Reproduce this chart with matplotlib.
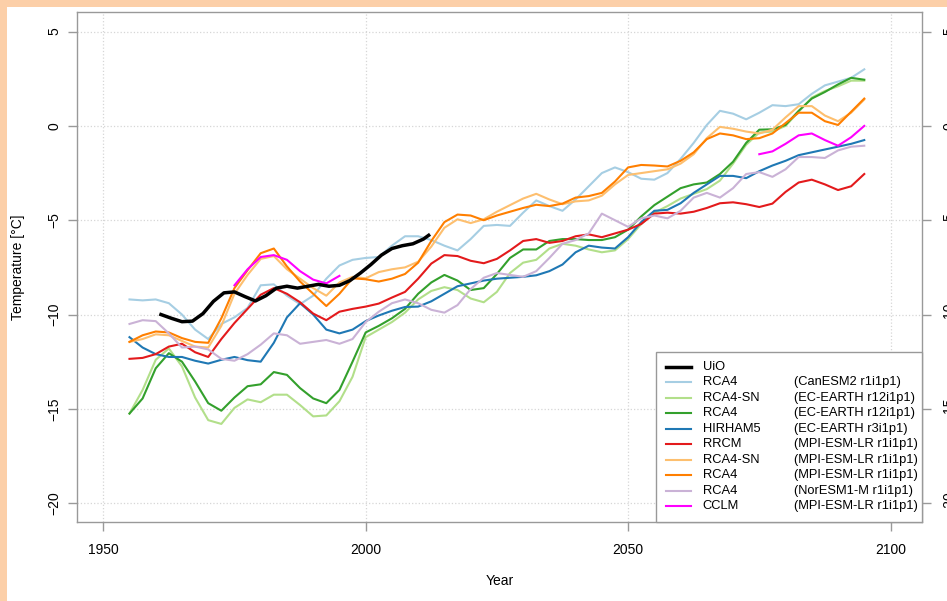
"""
Regional climate model runs vs. UiO observations, temperature by year.
"""
import matplotlib

matplotlib.use("Agg")
import matplotlib.pyplot as plt
from matplotlib.lines import Line2D
from matplotlib.patches import Rectangle

# ---------------------------------------------------------------- data
YEARS = [
    1955, 1957.5, 1960, 1962.5, 1965, 1967.5, 1970, 1972.5, 1975, 1977.5,
    1980, 1982.5, 1985, 1987.5, 1990, 1992.5, 1995, 1997.5, 2000, 2002.5,
    2005, 2007.5, 2010, 2012.5, 2015, 2017.5, 2020, 2022.5, 2025, 2027.5,
    2030, 2032.5, 2035, 2037.5, 2040, 2042.5, 2045, 2047.5, 2050, 2052.5,
    2055, 2057.5, 2060, 2062.5, 2065, 2067.5, 2070, 2072.5, 2075, 2077.5,
    2080, 2082.5, 2085, 2087.5, 2090, 2092.5, 2095,
]

rca4_canesm2 = [
    -9.2, -9.25, -9.2, -9.4, -10.0, -10.8, -11.3, -10.5, -10.15, -9.65,
    -8.45, -8.4, -9.0, -9.45, -9.0, -8.1, -7.4, -7.1, -7.0, -6.95,
    -6.35, -5.85, -5.85, -6.05, -6.35, -6.6, -6.0, -5.3, -5.25, -5.3,
    -4.6, -3.95, -4.25, -4.5, -3.9, -3.2, -2.5, -2.2, -2.45, -2.8,
    -2.85, -2.5, -1.75, -0.9, 0.05, 0.8, 0.65, 0.35, 0.7, 1.1,
    1.05, 1.15, 1.7, 2.15, 2.35, 2.55, 3.0,
]
rca4sn_ecearth = [
    -15.25, -14.0, -12.4, -11.8, -12.75, -14.4, -15.6, -15.8, -14.95, -14.5,
    -14.65, -14.25, -14.25, -14.8, -15.4, -15.35, -14.6, -13.3, -11.2, -10.8,
    -10.4, -9.9, -9.2, -8.75, -8.55, -8.7, -9.15, -9.35, -8.8, -7.8,
    -7.25, -7.1, -6.5, -6.25, -6.35, -6.55, -6.7, -6.6, -6.0, -5.2,
    -4.6, -4.25, -3.85, -3.6, -3.35, -2.9, -2.0, -1.0, -0.35, -0.3,
    0.0, 0.75, 1.5, 1.85, 2.1, 2.4, 2.4,
]
rca4_ecearth = [
    -15.25, -14.45, -12.85, -12.05, -12.5, -13.55, -14.7, -15.1, -14.4, -13.8,
    -13.7, -13.05, -13.2, -13.9, -14.45, -14.7, -14.0, -12.5, -10.95, -10.6,
    -10.2, -9.7, -8.9, -8.3, -7.9, -8.2, -8.7, -8.6, -7.85, -7.0,
    -6.55, -6.55, -6.1, -6.0, -6.0, -6.05, -6.05, -5.9, -5.5, -4.8,
    -4.2, -3.75, -3.3, -3.1, -3.0, -2.55, -1.9, -0.9, -0.2, -0.18,
    0.05, 0.8, 1.45, 1.8, 2.2, 2.55, 2.45,
]
hirham5_ecearth = [
    -11.2, -11.75, -12.1, -12.25, -12.25, -12.45, -12.6, -12.4, -12.25, -12.42,
    -12.5, -11.5, -10.15, -9.4, -10.0, -10.8, -11.0, -10.8, -10.35, -10.05,
    -9.8, -9.6, -9.58, -9.3, -8.9, -8.5, -8.35, -8.2, -8.1, -8.05,
    -8.0, -7.92, -7.7, -7.35, -6.7, -6.35, -6.45, -6.5, -5.9, -5.1,
    -4.5, -4.45, -4.1, -3.55, -3.1, -2.65, -2.65, -2.77, -2.4, -2.1,
    -1.85, -1.55, -1.4, -1.25, -1.1, -0.95, -0.75,
]
rrcm_mpi = [
    -12.35, -12.3, -12.1, -11.7, -11.55, -12.0, -12.25, -11.3, -10.45, -9.7,
    -8.95, -8.6, -8.9, -9.35, -9.95, -10.3, -9.85, -9.7, -9.58, -9.42,
    -9.1, -8.8, -8.1, -7.3, -6.85, -6.9, -7.15, -7.28, -7.05, -6.6,
    -6.1, -6.0, -6.2, -6.1, -5.85, -5.75, -5.9, -5.7, -5.5, -5.2,
    -4.65, -4.6, -4.65, -4.55, -4.35, -4.1, -4.05, -4.15, -4.3, -4.12,
    -3.5, -3.0, -2.85, -3.1, -3.4, -3.2, -2.55,
]
rca4sn_mpi = [
    -11.45, -11.3, -11.05, -11.1, -11.4, -11.7, -11.75, -10.6, -8.9, -7.9,
    -7.05, -6.9, -7.6, -8.1, -8.6, -9.0, -8.3, -8.0, -8.08, -7.75,
    -7.6, -7.5, -7.2, -6.4, -5.4, -4.95, -5.15, -4.95, -4.55, -4.2,
    -3.85, -3.6, -3.9, -4.15, -4.0, -3.95, -3.7, -3.1, -2.6, -2.5,
    -2.4, -2.3, -2.0, -1.5, -0.65, -0.05, -0.15, -0.3, -0.4, -0.2,
    0.45, 1.05, 1.05, 0.55, 0.25, 0.7, 1.4,
]
rca4_mpi = [
    -11.45, -11.1, -10.9, -10.95, -11.25, -11.45, -11.5, -10.2, -8.6, -7.65,
    -6.75, -6.5, -7.45, -8.25, -8.9, -9.55, -8.9, -8.08, -8.13, -8.25,
    -8.1, -7.85, -7.25, -6.1, -5.1, -4.7, -4.75, -5.0, -4.75, -4.55,
    -4.35, -4.18, -4.25, -4.12, -3.8, -3.72, -3.55, -2.95, -2.2, -2.07,
    -2.1, -2.15, -1.85, -1.4, -0.7, -0.4, -0.5, -0.7, -0.65, -0.4,
    0.15, 0.7, 0.7, 0.25, 0.05, 0.75, 1.45,
]
rca4_noresm = [
    -10.5, -10.3, -10.35, -11.0, -11.75, -11.7, -11.85, -12.35, -12.45, -12.1,
    -11.6, -11.0, -11.1, -11.55, -11.45, -11.35, -11.55, -11.3, -10.4, -9.85,
    -9.4, -9.2, -9.4, -9.75, -9.9, -9.5, -8.65, -8.05, -7.8, -7.9,
    -8.0, -7.7, -7.0, -6.25, -6.05, -5.7, -4.65, -5.0, -5.35, -4.9,
    -4.75, -4.9, -4.5, -3.8, -3.55, -3.8, -3.3, -2.55, -2.45, -2.7,
    -2.3, -1.65, -1.65, -1.7, -1.3, -1.1, -1.05,
]

cclm_years_hist = [1975, 1977.5, 1980, 1982.5, 1985, 1987.5, 1990, 1992.5, 1995]
cclm_hist = [-8.45, -7.6, -6.95, -6.85, -7.1, -7.7, -8.15, -8.35, -7.95]
cclm_years_fut = [2075, 2077.5, 2080, 2082.5, 2085, 2087.5, 2090, 2092.5, 2095]
cclm_fut = [-1.5, -1.35, -0.95, -0.5, -0.4, -0.75, -1.05, -0.6, 0.0]

uio_years = [
    1961, 1963, 1965, 1967, 1969, 1971, 1973, 1975, 1977, 1979,
    1981, 1983, 1985, 1987, 1989, 1991, 1993, 1995, 1997, 1999,
    2001, 2003, 2005, 2007, 2009, 2011, 2012,
]
uio = [
    -10.0, -10.2, -10.38, -10.35, -9.95, -9.3, -8.85, -8.8, -9.05, -9.28,
    -9.0, -8.6, -8.5, -8.6, -8.5, -8.4, -8.5, -8.45, -8.2, -7.8,
    -7.35, -6.85, -6.5, -6.35, -6.25, -6.0, -5.8,
]

RUN_NAMES = ["RCA4", "RCA4-SN", "RCA4", "HIRHAM5", "RRCM", "RCA4-SN", "RCA4", "RCA4"]
RUN_GCMS = [
    "(CanESM2 r1i1p1)", "(EC-EARTH r12i1p1)", "(EC-EARTH r12i1p1)",
    "(EC-EARTH r3i1p1)", "(MPI-ESM-LR r1i1p1)", "(MPI-ESM-LR r1i1p1)",
    "(MPI-ESM-LR r1i1p1)", "(NorESM1-M r1i1p1)",
]
RUN_VALUES = [rca4_canesm2, rca4sn_ecearth, rca4_ecearth, hirham5_ecearth,
              rrcm_mpi, rca4sn_mpi, rca4_mpi, rca4_noresm]
RUN_COLORS = ["#A6CEE3", "#B2DF8A", "#33A02C", "#1F78B4",
              "#E31A1C", "#FDBF6F", "#FF7F00", "#CAB2D6"]
CCLM_COLOR = "#FF00FF"

Y_TICKS = [-20, -15, -10, -5, 0, 5]
X_TICKS = [1950, 2000, 2050, 2100]

# ---------------------------------------------------------------- figure
W, H = 947, 601
GRAY = "#999999"


def fx(px):
    return px / W


def fy(py):
    return 1 - py / H


plt.rcParams["font.family"] = ["Liberation Sans", "DejaVu Sans"]

fig = plt.figure(figsize=(W / 100, H / 100), dpi=100)
fig.patch.set_facecolor("#FCCFA8")
fig.add_artist(Rectangle((fx(7), 0), 1, fy(7), transform=fig.transFigure,
                         facecolor="white", edgecolor="none", zorder=-10))

ax = fig.add_axes([fx(77), fy(522), (922 - 77) / W, (522 - 12) / H])
ax.set_xlim(1945, 2106)
ax.set_ylim(-21.0, 6.04)
ax.set_xticks(X_TICKS)
ax.set_yticks(Y_TICKS)
ax.grid(True, color="#D6D6D6", linestyle=":", linewidth=0.9)
ax.set_axisbelow(True)
for spine in ax.spines.values():
    spine.set_color(GRAY)
    spine.set_linewidth(1.0)
ax.tick_params(axis="x", colors=GRAY, labelcolor="black", length=6.5,
               width=1.0, labelsize=10, pad=8.3)
ax.tick_params(axis="y", colors=GRAY, labelcolor="black", length=6.5,
               width=1.0, labelsize=10, pad=4.8, labelrotation=90)
for lab in ax.get_yticklabels():
    lab.set_va("center")

# right-hand axis repeats the temperature ticks (labels run off the edge)
ax_r = ax.twinx()
ax_r.set_ylim(ax.get_ylim())
ax_r.set_yticks(Y_TICKS)
ax_r.tick_params(axis="y", colors=GRAY, labelcolor="black", length=6.5,
                 width=1.0, labelsize=10, pad=8.3, labelrotation=90)
for lab in ax_r.get_yticklabels():
    lab.set_va("center")
for spine in ax_r.spines.values():
    spine.set_visible(False)

for vals, col in zip(RUN_VALUES, RUN_COLORS):
    ax.plot(YEARS, vals, color=col, linewidth=1.5, solid_joinstyle="round")
ax.plot(cclm_years_hist, cclm_hist, color=CCLM_COLOR, linewidth=1.5,
        solid_joinstyle="round")
ax.plot(cclm_years_fut, cclm_fut, color=CCLM_COLOR, linewidth=1.5,
        solid_joinstyle="round")
ax.plot(uio_years, uio, color="black", linewidth=2.5, solid_joinstyle="round")

fig.text(fx(18), fy(267), "Temperature [°C]", rotation=90, ha="center",
         va="center", fontsize=10)
fig.text(fx(499.5), fy(581), "Year", ha="center", va="center", fontsize=10)

# ---------------------------------------------------------------- legend
fig.add_artist(Rectangle((fx(656), fy(522)), (922 - 656) / W, (522 - 352) / H,
                         transform=fig.transFigure, facecolor="white",
                         edgecolor=GRAY, linewidth=1.0, zorder=5))
leg_names = ["UiO"] + RUN_NAMES + ["CCLM"]
leg_gcms = [""] + RUN_GCMS + ["(MPI-ESM-LR r1i1p1)"]
leg_colors = ["black"] + RUN_COLORS + [CCLM_COLOR]
row0, drow = 366.7, 15.48
for i, (name, gcm, col) in enumerate(zip(leg_names, leg_gcms, leg_colors)):
    yy = fy(row0 + i * drow)
    fig.add_artist(Line2D([fx(666), fx(691)], [yy, yy], color=col,
                          linewidth=2.5 if i == 0 else 1.5,
                          transform=fig.transFigure, zorder=6))
    fig.text(fx(702.5), yy, name, ha="left", va="center", fontsize=9.3, zorder=6)
    if gcm:
        fig.text(fx(793.5), yy, gcm, ha="left", va="center", fontsize=9.3, zorder=6)

fig.savefig("out.png", dpi=100, facecolor=fig.get_facecolor())
